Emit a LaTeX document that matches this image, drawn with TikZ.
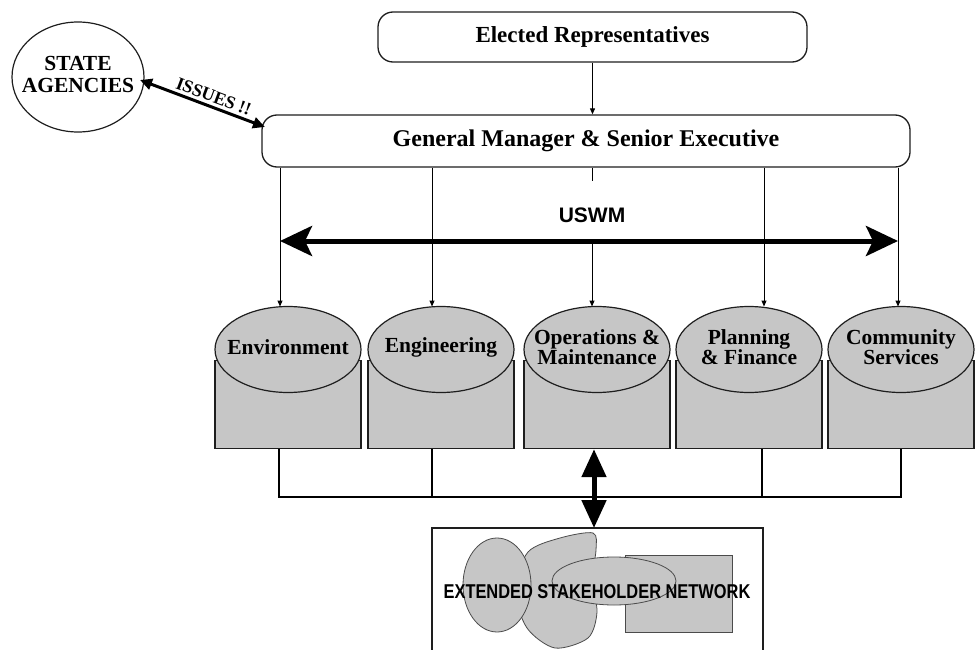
\documentclass[tikz,border=0pt]{standalone}
\usepackage{fontspec}
\setmainfont{Liberation Serif}
\setsansfont{Liberation Sans}
\usetikzlibrary{arrows.meta,shapes.geometric}
\definecolor{deptgray}{RGB}{198,198,198}
\definecolor{inkline}{RGB}{30,30,30}
\tikzset{
  headbox/.style={draw=inkline,line width=1.3pt,rounded corners=15pt,fill=white},
  deptell/.style={ellipse,draw=inkline,line width=1.2pt,fill=deptgray,
    minimum width=146pt,minimum height=86pt,inner sep=0pt},
  depttext/.style={align=center,inner sep=0pt,
    font=\bfseries\fontsize{21.5}{20}\selectfont},
  deptbody/.style={draw=inkline,line width=1.2pt,fill=deptgray,inner sep=0pt,
    minimum width=146pt,minimum height=88pt},
  feed/.style={line width=1pt,-{Triangle[length=6pt,width=5pt]}},
  tie/.style={line width=2pt},
  bigboth/.style={line width=5pt,{Stealth[length=32pt,width=30pt,inset=7pt]}-{Stealth[length=32pt,width=30pt,inset=7pt]}},
  blob/.style={draw=inkline!80,line width=0.8pt,fill=deptgray},
}
\begin{document}
\begin{tikzpicture}[x=1pt,y=-1pt]
\useasboundingbox (0,0) rectangle (977,650);

% top of the hierarchy
\node[headbox,minimum width=429pt,minimum height=50pt,font=\bfseries\fontsize{23}{25}\selectfont] (er) at (592.5,37) {Elected Representatives};
\node[headbox,minimum width=648pt,minimum height=52pt,font=\bfseries\fontsize{24}{26}\selectfont] (gm) at (586,141) {General Manager \& Senior Executive};
\draw[feed] (er.south) -- (er.south |- gm.north);

% state agencies and the issues link
\node[ellipse,draw=inkline,line width=1.2pt,minimum width=132pt,minimum height=110pt,inner sep=0pt] (sa) at (78,77) {};
\node[align=center,inner sep=0pt,font=\bfseries\fontsize{21.5}{22}\selectfont] (satext) at (78,74) {STATE\\AGENCIES};
\coordinate (gmcorner) at (265,127);
\coordinate (saend) at (140,80);
\draw[line width=3pt,{Triangle[length=12pt,width=11pt]}-{Triangle[length=12pt,width=11pt]}]
  (saend) -- node[sloped,above=3pt,pos=0.56,inner sep=0pt,font=\bfseries\fontsize{18}{18}\selectfont] (issues) {ISSUES !!} (gmcorner);

% departments
\foreach \name/\cx/\txt in {env/288/Environment, eng/441/Engineering,
    ops/597/{Operations \&\\Maintenance}, plan/749/{Planning\\\& Finance},
    com/901/{Community\\Services}} {
  \node[deptbody,anchor=north] (\name b) at (\cx,360) {};
  \node[deptell] (\name) at (\cx,349.5) {};
  \node[depttext] (\name txt) at (\cx,347) {\txt};
}

% feeds from the executive down to each department
\foreach \name/\lx in {env/280, eng/432, ops/592, plan/764, com/898} {
  \coordinate (\name top) at (\lx,306.5);
}
\draw[feed] (gm.south -| envtop) -- (envtop);
\draw[feed] (gm.south -| engtop) -- (engtop);
\draw[feed] (gm.south -| plantop) -- (plantop);
\draw[feed] (gm.south -| comtop) -- (comtop);
\draw[line width=1pt] (gm.south -| opstop) -- ++(0,13);
\coordinate (uswmleft) at (280,241);
\coordinate (uswmright) at (898,241);
\draw[feed] (uswmleft -| opstop) -- (opstop);

% the USWM band
\node[font=\sffamily\bfseries\fontsize{21}{21}\selectfont] (uswm) at (592,215) {USWM};
\draw[bigboth] (uswmleft) -- (uswmright);

% ties along the bottom of the departments
\coordinate (tiel) at (279,497);
\coordinate (tier) at (901,497);
\draw[tie] (envb.south -| tiel) -- (tiel) -- (tier) -- (comb.south -| tier);
\draw[tie] (engb.south -| 432,0) -- (432,497);
\draw[tie] (planb.south -| 762,0) -- (762,497);

% extended stakeholder network
\draw[line width=1.4pt,draw=inkline] (432,660) coordinate (netbl) -- (432,528) -- (763,528) coordinate (nettr) -- (763,660);
\coordinate (nettop) at (594,528);
\draw[line width=5pt,{Triangle[length=28pt,width=24pt]}-{Triangle[length=28pt,width=24pt]}]
  (opsb.south -| nettop) -- (nettop);
\node[blob,rectangle,minimum width=107pt,minimum height=77pt,anchor=north west] (netrect) at (625,555) {};
\draw[blob] plot[smooth cycle] coordinates {(593,533) (560,538) (528,552) (515,590) (527,628) (555,648) (588,638) (597,612) (592,580) (596,550)};
\node[blob,ellipse,minimum width=68pt,minimum height=94pt] (netell) at (497,585) {};
\node[blob,ellipse,minimum width=124pt,minimum height=48pt] (netmid) at (614,581) {};
\node[font=\sffamily\bfseries\fontsize{20}{20}\selectfont,xscale=0.82] (netlabel) at (597,592) {EXTENDED STAKEHOLDER NETWORK};
\end{tikzpicture}
\end{document}
